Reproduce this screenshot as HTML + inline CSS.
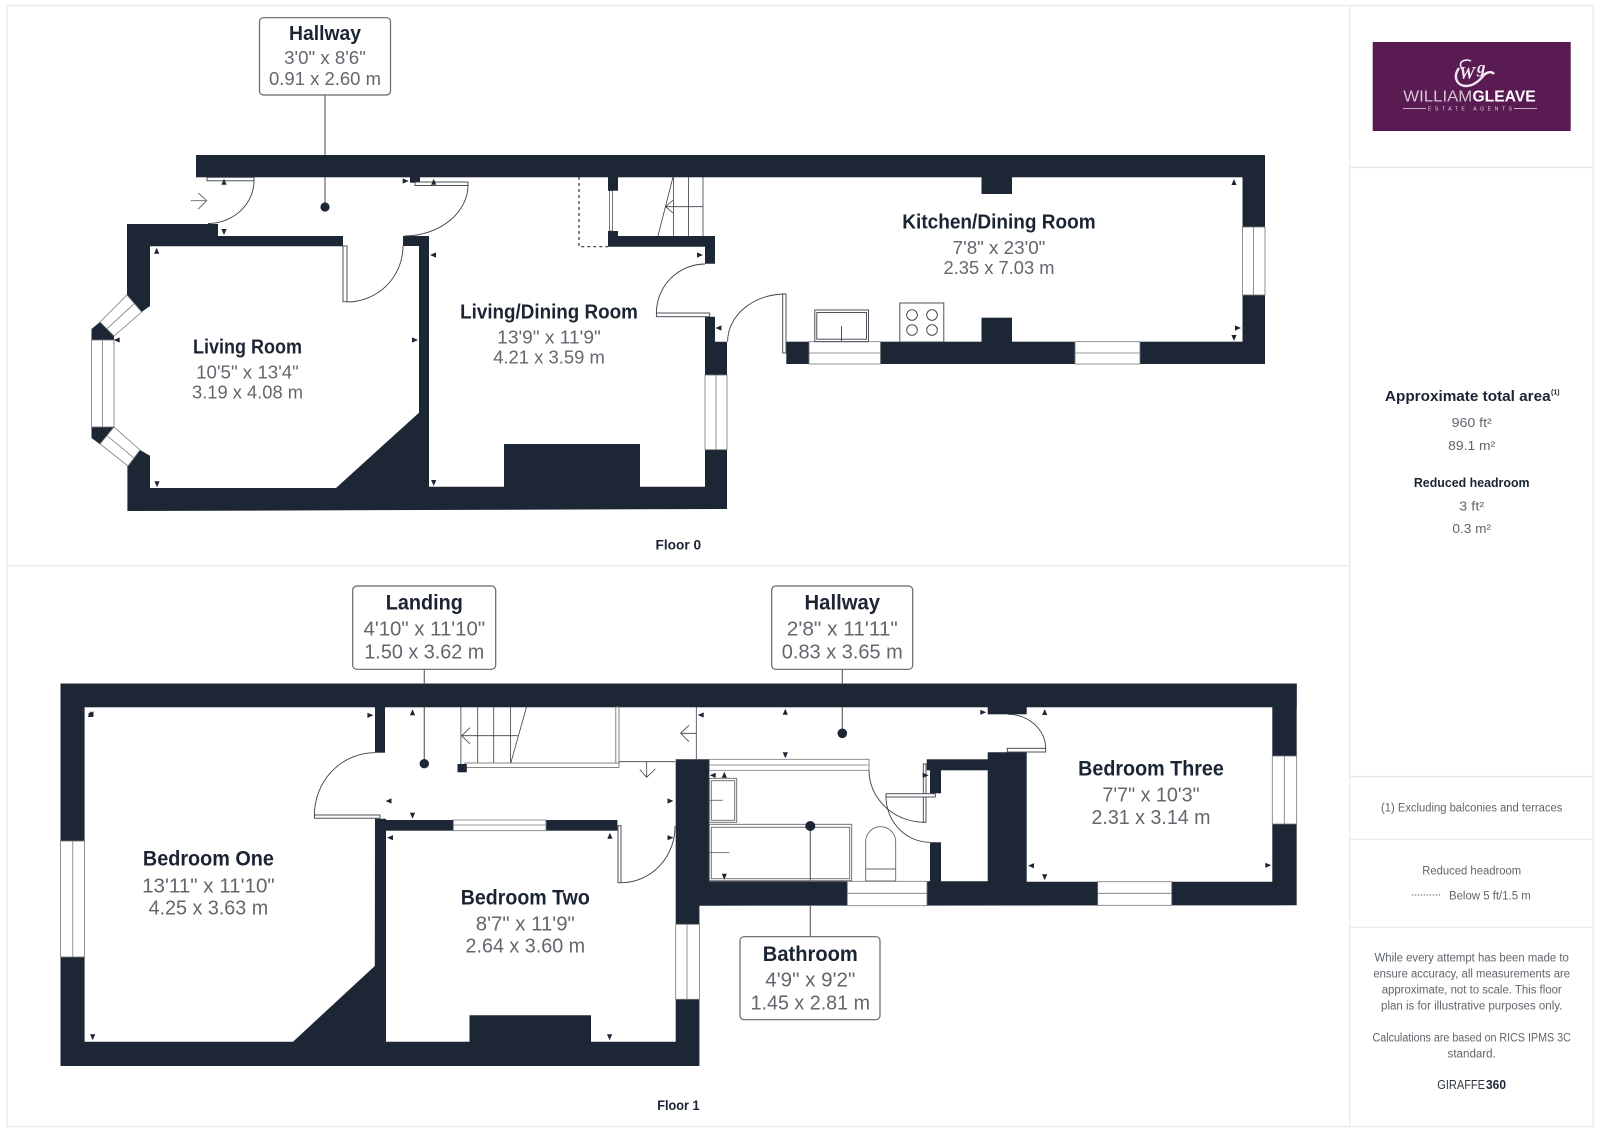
<!DOCTYPE html>
<html><head><meta charset="utf-8"><title>Floor plan</title>
<style>
html,body{margin:0;padding:0;background:#fff}
svg{display:block}
text{font-family:"Liberation Sans",sans-serif}
.n{fill:#1b2433;font-weight:700;text-anchor:middle}
.d{fill:#62676e;text-anchor:middle}
.w{fill:#1c2635}
.g{fill:#fff;stroke:#777;stroke-width:.8}
.l{fill:none;stroke:#3a3f47;stroke-width:.9}
.lb{fill:#fff;stroke:#666;stroke-width:1.2}
.c{stroke:#666;stroke-width:1.2;fill:none}
.dd{fill:#1c2635}
.s{fill:#5f656c;text-anchor:middle}
.b{fill:#1b2433;font-weight:700;text-anchor:middle}
</style></head><body>
<svg xmlns="http://www.w3.org/2000/svg" width="1600" height="1128" viewBox="0 0 1600 1128">
<defs><polygon id="t" points="0,-3 2.6,3 -2.6,3" fill="#1c2635"/></defs>
<rect width="1600" height="1128" fill="#fff"/>
<!-- frames -->
<g stroke="#e6e8ea" stroke-width="1.2" fill="none">
<rect x="7" y="5.5" width="1586.3" height="1121.2"/>
<line x1="1349.7" y1="5.5" x2="1349.7" y2="1126.7"/>
<line x1="7" y1="565.7" x2="1349.7" y2="565.7"/>
<line x1="1349.7" y1="167.5" x2="1593.3" y2="167.5"/>
<line x1="1349.7" y1="776.5" x2="1593.3" y2="776.5"/>
<line x1="1349.7" y1="839.3" x2="1593.3" y2="839.3"/>
<line x1="1349.7" y1="927.3" x2="1593.3" y2="927.3"/>
</g>

<!-- FLOOR 0 walls -->
<g class="w">
<rect x="196" y="155" width="1069" height="22.3"/>
<rect x="1242.5" y="155" width="22.5" height="209"/>
<rect x="786.3" y="341.7" width="478.7" height="22.3"/>
<rect x="981.5" y="177" width="30.5" height="17"/>
<rect x="981.5" y="317.7" width="30.5" height="25"/>
<rect x="608" y="177" width="10" height="13.7"/>
<polygon points="608,231 618,231 618,236 715,236 715,263.7 705,263.7 705,246.7 608,246.7"/>
<polygon points="127,224 218,224 218,236 343,236 343,246.3 150,246.3 150,306 141.7,312 127,295"/>
<rect x="403" y="236" width="26" height="10"/>
<rect x="419" y="236" width="10" height="180"/>
<polygon points="127.4,466 140,450 150,455.7 150,488 336,488 419,412.7 429,412.7 429,486.7 504,486.7 504,444 640,444 640,486.7 705,486.7 705,316.7 715,316.7 715,341.7 727,341.7 727,509 127.4,511"/>
<polygon points="100,322 91.5,329 91.5,340 114,340 114,336"/>
<polygon points="91.5,427 114,427 100,444.3 91.5,438"/>
<rect x="410" y="177" width="10" height="5.7"/>
</g>
<!-- F0 windows -->
<g class="g">
<rect x="1242.5" y="227" width="22.5" height="68"/><line x1="1253.5" y1="227" x2="1253.5" y2="295"/>
<rect x="809" y="341.7" width="71.5" height="22.3"/><line x1="809" y1="353" x2="880.5" y2="353"/>
<rect x="1075" y="341.7" width="65" height="22.3"/><line x1="1075" y1="353" x2="1140" y2="353"/>
<rect x="705" y="375" width="22" height="74.7"/><line x1="716" y1="375" x2="716" y2="449.7"/>
<rect x="91.5" y="340" width="22.5" height="87"/><line x1="102.5" y1="340" x2="102.5" y2="427"/>
<polygon points="100,322 127,295 141.7,312 114,336"/><line x1="106.8" y1="329" x2="134.3" y2="303.5"/>
<polygon points="114,427 140,450 128,466 100,444"/><line x1="106.8" y1="435.5" x2="134" y2="458"/>
</g>
<!-- F0 doors -->
<g class="l">
<rect x="207" y="177.3" width="47" height="3.5" fill="#fff"/>
<path d="M254 180 A46 43 0 0 1 208 223.5"/>
<rect x="415" y="182" width="53" height="3.5" fill="#fff"/>
<path d="M468 185 A64 51 0 0 1 405 236"/>
<rect x="343" y="246" width="4" height="55.7" fill="#fff"/>
<path d="M347 302 A56 56 0 0 0 403 246"/>
<path d="M705 264 A49 49 0 0 0 656.4 313"/>
<rect x="656.4" y="313" width="53.3" height="3.7" fill="#fff"/>
<path d="M727.6 341.7 A57.5 47.7 0 0 1 785 294"/>
<rect x="782.7" y="294" width="3.3" height="59" fill="#fff"/>
<path d="M190.7 200.7H206.7M198.3 193L206.7 200.7L198.3 209" stroke="#666"/>
<!-- stairs -->
<path d="M673.4 177V236M688.6 177V236M703 177V236M673 177L658 236M665.6 206.7H703M673 200L665.6 206.7L673 213" stroke-width=".8"/>
<rect x="609.5" y="190.7" width="3" height="40.3" fill="#fff" stroke-width=".7"/>
</g>
<path d="M579 177V246.7H608" fill="none" stroke="#333" stroke-width="1.2" stroke-dasharray="3 3"/>
<!-- kitchen fittings -->
<g class="l" stroke="#555" stroke-width=".9">
<rect x="814.8" y="310" width="53.7" height="31.7"/>
<rect x="816.8" y="312.5" width="49.7" height="26.7"/>
<line x1="841.5" y1="326" x2="841.5" y2="341"/>
<rect x="899.8" y="303" width="44" height="39"/>
<circle cx="912" cy="315" r="5.3"/><circle cx="932" cy="315" r="5.3"/>
<circle cx="912" cy="330" r="5.3"/><circle cx="932" cy="330" r="5.3"/>
</g>
<!-- F0 ticks -->
<use href="#t" transform="translate(224,181.7)"/>
<use href="#t" transform="translate(405.7,181) rotate(90)"/>
<use href="#t" transform="translate(433.7,181.7)"/>
<use href="#t" transform="translate(224,232) rotate(180)"/>
<use href="#t" transform="translate(156.7,250.7)"/>
<use href="#t" transform="translate(433,255) rotate(270)"/>
<use href="#t" transform="translate(116.7,340) rotate(270)"/>
<use href="#t" transform="translate(415,340) rotate(90)"/>
<use href="#t" transform="translate(157,484.3) rotate(180)"/>
<use href="#t" transform="translate(433.7,483) rotate(180)"/>
<use href="#t" transform="translate(700,255) rotate(90)"/>
<use href="#t" transform="translate(718.4,328) rotate(270)"/>
<use href="#t" transform="translate(1234,182)"/>
<use href="#t" transform="translate(1238,328) rotate(90)"/>
<use href="#t" transform="translate(1234,338) rotate(180)"/>

<!-- FLOOR 1 walls -->
<g class="w">
<rect x="60.5" y="683.5" width="1236.2" height="23.8"/>
<rect x="60.5" y="683.5" width="24.1" height="382.5"/>
<polygon points="60.5,1041.7 293,1041.7 374.8,966 375,818.7 386,818.7 386,1041.7 469.5,1041.7 469.5,1015.3 591,1015.3 591,1041.7 675.7,1041.7 675.7,759.3 709.3,759.3 709.3,881.3 987.7,881.3 987.7,752.3 1026.7,752.3 1026.7,881.7 1272.3,881.7 1272.3,684 1296.7,684 1296.7,905.3 699.4,905.7 699.4,1066 60.5,1066"/>
<rect x="375" y="707" width="10" height="45.7"/>
<rect x="385" y="820" width="232.4" height="10.7"/>
<rect x="987.7" y="707" width="39" height="7.3"/>
<rect x="926.7" y="759.3" width="61.3" height="11"/>
<rect x="930" y="770" width="11" height="23.3"/>
<rect x="930" y="842.3" width="11" height="39.5"/>
</g>
<!-- F1 windows -->
<g class="g">
<rect x="60.5" y="841" width="24.1" height="116"/><line x1="72.8" y1="841" x2="72.8" y2="957"/>
<rect x="675.7" y="924.3" width="23.7" height="75"/><line x1="687" y1="924.3" x2="687" y2="999.3"/>
<rect x="453.3" y="820" width="92.7" height="10.7"/><line x1="453.3" y1="825" x2="546" y2="825"/>
<rect x="847.3" y="881.3" width="79.7" height="24.4"/><line x1="847.3" y1="893.3" x2="927" y2="893.3"/>
<rect x="1097.7" y="881.7" width="74" height="23.6"/><line x1="1097.7" y1="893.3" x2="1171.7" y2="893.3"/>
<rect x="1272.3" y="756" width="24.4" height="68"/><line x1="1284.3" y1="756" x2="1284.3" y2="824"/>
<rect x="709.3" y="759.3" width="159.7" height="11"/><line x1="709.3" y1="765" x2="869" y2="765"/>
</g>
<!-- F1 doors & stairs -->
<g class="l">
<path d="M375 752.7 A60.6 62.3 0 0 0 314.4 815"/>
<rect x="314.4" y="815" width="65.6" height="3.2" fill="#fff"/>
<rect x="618" y="825.7" width="3" height="57" fill="#fff"/>
<path d="M621 882.7 A54 56 0 0 0 675 826"/>
<path d="M1008 714.3 A37.7 34.7 0 0 1 1045.7 749"/>
<rect x="1007.3" y="748.3" width="38.4" height="3.7" fill="#fff"/>
<path d="M869 770 A56 52 0 0 0 925 822.3"/>
<rect x="923.3" y="764" width="2.7" height="58.3" fill="#fff"/>
<rect x="886" y="793.7" width="49.3" height="3.3" fill="#fff"/>
<path d="M886 797 A44 46 0 0 0 930 842.3"/>
<path d="M460.9 707V764M477.7 707V764M493.7 707V764M510.5 707V764M526.5 707L510.5 764M461.7 735.7H517.7M470 727.7L461.7 735.7L470 744" stroke-width=".8"/>
<rect x="465" y="763" width="154" height="4.5" fill="#fff" stroke="#777"/>
<rect x="615.8" y="707" width="3.2" height="56" fill="#fff" stroke="#777"/>
<path d="M619 761.7H675M646.7 761.7V777.3M639.8 769.5L646.7 777.3L655.3 769" stroke-width=".8"/>
<path d="M696.3 707V759M680.7 733.3H696.3M689 725.3L680.7 733.3L689 741.7" stroke-width=".8"/>
<!-- bathroom fittings -->
<rect x="709.3" y="778.3" width="27.4" height="44" stroke="#666"/>
<rect x="711.3" y="780.7" width="23.4" height="39.6" stroke="#666"/>
<line x1="709" y1="800.3" x2="722.7" y2="800.3" stroke="#666"/>
<rect x="709.3" y="824.3" width="142.4" height="56.4" stroke="#666"/>
<rect x="711.3" y="827.3" width="138.4" height="51.4" stroke="#666"/>
<line x1="709" y1="852.7" x2="729.3" y2="852.7" stroke="#666"/>
<path d="M865.7 881V841.7A15 15 0 0 1 895.7 841.7V881ZM865.7 869H895.7" stroke="#666"/>
</g>
<rect x="457.5" y="764" width="9.3" height="8.3" class="w"/>
<!-- F1 ticks -->
<use href="#t" transform="translate(90.5,714)"/><use href="#t" transform="translate(90.5,714) rotate(270)"/>
<use href="#t" transform="translate(370.4,715.3) rotate(90)"/>
<use href="#t" transform="translate(412.5,712.3)"/>
<use href="#t" transform="translate(388.5,801) rotate(270)"/>
<use href="#t" transform="translate(412.5,815.7) rotate(180)"/>
<use href="#t" transform="translate(670.5,801) rotate(90)"/>
<use href="#t" transform="translate(390,837.7) rotate(270)"/>
<use href="#t" transform="translate(609.9,835.7)"/>
<use href="#t" transform="translate(670.5,837.7) rotate(90)"/>
<use href="#t" transform="translate(700.7,715) rotate(270)"/>
<use href="#t" transform="translate(785.3,711.7)"/>
<use href="#t" transform="translate(785.3,755.3) rotate(180)"/>
<use href="#t" transform="translate(712.7,775.3) rotate(270)"/>
<use href="#t" transform="translate(724.3,774.7)"/>
<use href="#t" transform="translate(724.3,876.7) rotate(180)"/>
<use href="#t" transform="translate(983.3,712.3) rotate(90)"/>
<use href="#t" transform="translate(1044.7,712)"/>
<use href="#t" transform="translate(925.7,775.3) rotate(90)"/>
<use href="#t" transform="translate(1031,865.7) rotate(270)"/>
<use href="#t" transform="translate(1044.7,877.3) rotate(180)"/>
<use href="#t" transform="translate(1268.3,865.3) rotate(90)"/>
<use href="#t" transform="translate(92.7,1037.3) rotate(180)"/>
<use href="#t" transform="translate(609.6,1037.3) rotate(180)"/>

<!-- Callouts -->
<line class="c" x1="325" y1="95" x2="325" y2="155"/><line class="c" x1="325" y1="177" x2="325" y2="207"/>
<circle class="dd" cx="325" cy="207" r="4.6"/>
<rect class="lb" x="259.5" y="17.7" width="131" height="77.3" rx="4"/>
<line class="c" x1="424.3" y1="669" x2="424.3" y2="684"/><line class="c" x1="424.3" y1="707" x2="424.3" y2="763.7"/>
<circle class="dd" cx="424.3" cy="763.7" r="4.7"/>
<rect class="lb" x="352.7" y="586" width="143" height="83.3" rx="4"/>
<line class="c" x1="842.3" y1="669" x2="842.3" y2="684"/><line class="c" x1="842.3" y1="707" x2="842.3" y2="733.3"/>
<circle class="dd" cx="842.3" cy="733.3" r="4.8"/>
<rect class="lb" x="771.7" y="586" width="141" height="83.3" rx="4"/>
<line class="c" x1="810.3" y1="826" x2="810.3" y2="881"/><line class="c" x1="810.3" y1="905.7" x2="810.3" y2="936.7"/>
<circle class="dd" cx="810.3" cy="826" r="5"/>
<rect class="lb" x="740" y="936.7" width="140" height="83" rx="4"/>

<!-- Room labels -->
<g font-size="20">
<text class="n" x="325" y="40" textLength="72" lengthAdjust="spacingAndGlyphs">Hallway</text>
<text class="d" x="325" y="64" font-size="18.5" textLength="81.7" lengthAdjust="spacingAndGlyphs">3'0" x 8'6"</text>
<text class="d" x="325" y="85" font-size="18.5" textLength="112" lengthAdjust="spacingAndGlyphs">0.91 x 2.60 m</text>

<text class="n" x="247.5" y="353.3" textLength="109" lengthAdjust="spacingAndGlyphs">Living Room</text>
<text class="d" x="247.5" y="378.3" font-size="18.5" textLength="102.7" lengthAdjust="spacingAndGlyphs">10'5" x 13'4"</text>
<text class="d" x="247.5" y="398.7" font-size="18.5" textLength="111" lengthAdjust="spacingAndGlyphs">3.19 x 4.08 m</text>

<text class="n" x="549" y="318.3" textLength="177.7" lengthAdjust="spacingAndGlyphs">Living/Dining Room</text>
<text class="d" x="549" y="343.3" font-size="18.5" textLength="103.6" lengthAdjust="spacingAndGlyphs">13'9" x 11'9"</text>
<text class="d" x="549" y="363.7" font-size="18.5" textLength="111.6" lengthAdjust="spacingAndGlyphs">4.21 x 3.59 m</text>

<text class="n" x="999" y="228.3" textLength="193.4" lengthAdjust="spacingAndGlyphs">Kitchen/Dining Room</text>
<text class="d" x="999" y="254" font-size="18.5" textLength="92.7" lengthAdjust="spacingAndGlyphs">7'8" x 23'0"</text>
<text class="d" x="999" y="274" font-size="18.5" textLength="111" lengthAdjust="spacingAndGlyphs">2.35 x 7.03 m</text>

<text class="n" x="424.3" y="609.3" font-size="21" textLength="77" lengthAdjust="spacingAndGlyphs">Landing</text>
<text class="d" x="424.3" y="635.7" textLength="121.6" lengthAdjust="spacingAndGlyphs">4'10" x 11'10"</text>
<text class="d" x="424.3" y="658.7" textLength="120" lengthAdjust="spacingAndGlyphs">1.50 x 3.62 m</text>

<text class="n" x="842.3" y="609.3" font-size="21" textLength="75.5" lengthAdjust="spacingAndGlyphs">Hallway</text>
<text class="d" x="842.3" y="635.7" textLength="111" lengthAdjust="spacingAndGlyphs">2'8" x 11'11"</text>
<text class="d" x="842.3" y="658.7" textLength="121" lengthAdjust="spacingAndGlyphs">0.83 x 3.65 m</text>

<text class="n" x="810.3" y="961" font-size="21" textLength="95" lengthAdjust="spacingAndGlyphs">Bathroom</text>
<text class="d" x="810.3" y="986.4" textLength="90" lengthAdjust="spacingAndGlyphs">4'9" x 9'2"</text>
<text class="d" x="810.3" y="1009.4" textLength="119.4" lengthAdjust="spacingAndGlyphs">1.45 x 2.81 m</text>

<text class="n" x="208.4" y="865.5" font-size="21" textLength="131" lengthAdjust="spacingAndGlyphs">Bedroom One</text>
<text class="d" x="208.4" y="892.3" textLength="132.6" lengthAdjust="spacingAndGlyphs">13'11" x 11'10"</text>
<text class="d" x="208.4" y="914.3" textLength="119.6" lengthAdjust="spacingAndGlyphs">4.25 x 3.63 m</text>

<text class="n" x="525.3" y="904.5" font-size="21" textLength="129" lengthAdjust="spacingAndGlyphs">Bedroom Two</text>
<text class="d" x="525.3" y="930.7" textLength="99" lengthAdjust="spacingAndGlyphs">8'7" x 11'9"</text>
<text class="d" x="525.3" y="952.7" textLength="119.6" lengthAdjust="spacingAndGlyphs">2.64 x 3.60 m</text>

<text class="n" x="1151" y="775.5" font-size="21" textLength="145.7" lengthAdjust="spacingAndGlyphs">Bedroom Three</text>
<text class="d" x="1151" y="801.7" textLength="97.3" lengthAdjust="spacingAndGlyphs">7'7" x 10'3"</text>
<text class="d" x="1151" y="824" textLength="119" lengthAdjust="spacingAndGlyphs">2.31 x 3.14 m</text>
</g>
<text class="n" x="678.3" y="549.3" font-size="14" textLength="45.5" lengthAdjust="spacingAndGlyphs">Floor 0</text>
<text class="n" x="678.4" y="1110" font-size="14" textLength="42.4" lengthAdjust="spacingAndGlyphs">Floor 1</text>

<!-- Logo -->
<rect x="1372.7" y="42" width="198" height="89" fill="#5a1a52"/>
<g fill="#fff">
<path d="M1459 68 C1452 78 1458 86 1466 86 C1474 86 1480 80 1484 75 C1487 72 1492 71 1494 74" fill="none" stroke="#f3e6f0" stroke-width="2.4"/>
<path d="M1463 70 C1456 62 1465 58 1471 61" fill="none" stroke="#f3e6f0" stroke-width="1.6"/>
<text x="1459" y="79" font-size="18" font-style="italic" font-weight="700" style="font-family:'Liberation Serif',serif" fill="#f3e6f0">W</text>
<text x="1477" y="73" font-size="17" font-style="italic" font-weight="700" style="font-family:'Liberation Serif',serif" fill="#f3e6f0">g</text>
<text x="1403.3" y="101.7" font-size="16" fill="#d9c4d4" textLength="69" lengthAdjust="spacingAndGlyphs">WILLIAM</text>
<text x="1472.5" y="101.7" font-size="16" font-weight="700" fill="#fff" textLength="63.2" lengthAdjust="spacingAndGlyphs">GLEAVE</text>
<text x="1470" y="110.5" font-size="5" text-anchor="middle" fill="#e6d5e2" textLength="84" lengthAdjust="spacing">ESTATE AGENTS</text>
<rect x="1403" y="108" width="23" height=".8" fill="#e6d5e2"/><rect x="1514" y="108" width="23" height=".8" fill="#e6d5e2"/>
</g>

<!-- Side panel -->
<text class="b" x="1467.8" y="401" font-size="15" textLength="165.7" lengthAdjust="spacingAndGlyphs">Approximate total area</text>
<text x="1551" y="394.5" font-size="7" font-weight="700" fill="#1b2433">(1)</text>
<text class="s" x="1471.7" y="427" font-size="13" textLength="40" lengthAdjust="spacingAndGlyphs">960 ft²</text>
<text class="s" x="1471.7" y="449.8" font-size="13" textLength="47" lengthAdjust="spacingAndGlyphs">89.1 m²</text>
<text class="b" x="1471.7" y="487" font-size="12.5" textLength="115.7" lengthAdjust="spacingAndGlyphs">Reduced headroom</text>
<text class="s" x="1471.7" y="510.7" font-size="13" textLength="25" lengthAdjust="spacingAndGlyphs">3 ft²</text>
<text class="s" x="1471.7" y="533" font-size="13" textLength="38.7" lengthAdjust="spacingAndGlyphs">0.3 m²</text>

<text class="s" x="1471.7" y="811.7" font-size="11.5" textLength="181.3" lengthAdjust="spacingAndGlyphs">(1) Excluding balconies and terraces</text>
<text class="s" x="1471.7" y="874.3" font-size="11.5" textLength="99" lengthAdjust="spacingAndGlyphs">Reduced headroom</text>
<line x1="1411.7" y1="895" x2="1440" y2="895" stroke="#666" stroke-width="1" stroke-dasharray="1.5 1.5"/>
<text x="1449" y="899.3" font-size="11.5" fill="#5f656c" textLength="81.7" lengthAdjust="spacingAndGlyphs">Below 5 ft/1.5 m</text>
<g font-size="11.5">
<text class="s" x="1471.7" y="961.7" textLength="194.3" lengthAdjust="spacingAndGlyphs">While every attempt has been made to</text>
<text class="s" x="1471.7" y="977.7" textLength="196.7" lengthAdjust="spacingAndGlyphs">ensure accuracy, all measurements are</text>
<text class="s" x="1471.7" y="993.7" textLength="180" lengthAdjust="spacingAndGlyphs">approximate, not to scale. This floor</text>
<text class="s" x="1471.7" y="1009.7" textLength="181.3" lengthAdjust="spacingAndGlyphs">plan is for illustrative purposes only.</text>
<text class="s" x="1471.7" y="1041.7" textLength="198.3" lengthAdjust="spacingAndGlyphs">Calculations are based on RICS IPMS 3C</text>
<text class="s" x="1471.7" y="1057.3" textLength="48.3" lengthAdjust="spacingAndGlyphs">standard.</text>
</g>
<text x="1437.3" y="1089" font-size="12.5" fill="#333840" textLength="47.7" lengthAdjust="spacingAndGlyphs">GIRAFFE</text>
<text x="1486" y="1089" font-size="12.5" font-weight="700" fill="#1b2433" textLength="20" lengthAdjust="spacingAndGlyphs">360</text>
</svg>
</body></html>
